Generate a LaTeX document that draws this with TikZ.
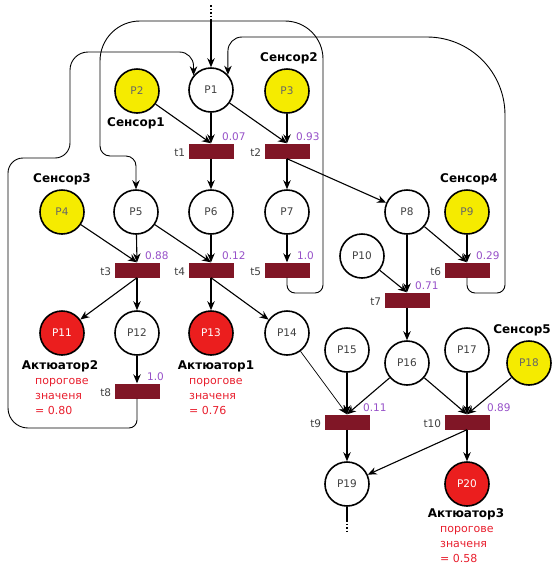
\documentclass[tikz,border=0pt]{standalone}
\usepackage{fontspec}
\setmainfont{DejaVu Sans}
\usetikzlibrary{arrows.meta}

\definecolor{tred}{RGB}{128,22,38}
\definecolor{pyellow}{RGB}{245,235,0}
\definecolor{pred}{RGB}{235,30,30}
\definecolor{wpurple}{RGB}{150,80,200}
\definecolor{thrred}{RGB}{232,30,45}

\begin{document}
\begin{tikzpicture}[x=1pt,y=-1pt,
  place/.style={circle,draw=black,line width=1.6pt,minimum size=44pt,inner sep=0pt,
    fill=white,text=black!75,font=\fontsize{10.5}{12}\selectfont},
  sensor/.style={place,fill=pyellow,text=black!60},
  actuator/.style={place,fill=pred,text=white},
  trans/.style={rectangle,fill=tred,minimum width=45pt,minimum height=15pt,inner sep=0pt},
  tname/.style={anchor=east,inner sep=0pt,font=\fontsize{10.5}{12}\selectfont,text=black!75},
  weight/.style={anchor=base west,inner sep=0pt,font=\fontsize{10.5}{12}\selectfont,text=wpurple},
  slabel/.style={anchor=base,inner sep=0pt,font=\bfseries\fontsize{12}{14}\selectfont},
  thr/.style={anchor=base west,inner sep=0pt,font=\fontsize{11}{13}\selectfont,text=thrred},
  arc/.style={-{Stealth[length=9pt,width=7.5pt]},line width=1.1pt},
  thinarc/.style={-{Stealth[length=9pt,width=7.5pt]},line width=0.7pt},
  fb/.style={line width=0.9pt},
  fbarc/.style={fb,-{Stealth[length=9pt,width=7.5pt]}}
]
\useasboundingbox (0,0) rectangle (552,566);

% ---------- places ----------
\node[place]    (P1)  at (211,90)  {P1};
\node[sensor]   (P2)  at (137,91)  {P2};
\node[sensor]   (P3)  at (287,91)  {P3};
\node[sensor]   (P4)  at (62,212)  {P4};
\node[place]    (P5)  at (136,212) {P5};
\node[place]    (P6)  at (211,212) {P6};
\node[place]    (P7)  at (287,212) {P7};
\node[place]    (P8)  at (407,212) {P8};
\node[sensor]   (P9)  at (467,212) {P9};
\node[place]    (P10) at (362,256) {P10};
\node[actuator] (P11) at (62,333)  {P11};
\node[place]    (P12) at (137,333) {P12};
\node[actuator] (P13) at (211,333) {P13};
\node[place]    (P14) at (287,333) {P14};
\node[place]    (P15) at (347,350) {P15};
\node[place]    (P16) at (407,363) {P16};
\node[place]    (P17) at (467,350) {P17};
\node[sensor]   (P18) at (529,363) {P18};
\node[place]    (P19) at (347,484) {P19};
\node[actuator] (P20) at (467,484) {P20};

% ---------- transitions ----------
\node[trans] (t1)  at (211,151) {};
\node[trans] (t2)  at (287,151) {};
\node[trans] (t3)  at (137,270) {};
\node[trans] (t4)  at (211,270) {};
\node[trans] (t5)  at (287,270) {};
\node[trans] (t6)  at (467,270) {};
\node[trans] (t7)  at (407,300) {};
\node[trans] (t8)  at (137,391) {};
\node[trans] (t9)  at (347,422) {};
\node[trans] (t10) at (467,422) {};

% transition names
\foreach \t in {t1,t2,t3,t4,t5,t6,t7,t8,t9,t10}
  \node[tname] (n\t) at ([xshift=-3pt,yshift=-2pt]\t.west) {\t};

% firing weights
\node[weight] (w1)  at ([xshift=11pt,yshift=3pt]t1.north)  {0.07};
\node[weight] (w2)  at ([xshift=9pt,yshift=3pt]t2.north)   {0.93};
\node[weight] (w3)  at ([xshift=8pt,yshift=3pt]t3.north)   {0.88};
\node[weight] (w4)  at ([xshift=11pt,yshift=3pt]t4.north)  {0.12};
\node[weight] (w5)  at ([xshift=10pt,yshift=3pt]t5.north)  {1.0};
\node[weight] (w6)  at ([xshift=9pt,yshift=3pt]t6.north)   {0.29};
\node[weight] (w7)  at ([xshift=8pt,yshift=3pt]t7.north)   {0.71};
\node[weight] (w8)  at ([xshift=10pt,yshift=3pt]t8.north)  {1.0};
\node[weight] (w9)  at ([xshift=16pt,yshift=3pt]t9.north)  {0.11};
\node[weight] (w10) at ([xshift=20pt,yshift=3pt]t10.north) {0.89};

% ---------- sensor and actuator captions ----------
\node[slabel] (s1) at (136,126) {Сенсор1};
\node[slabel] (s2) at (289,61)  {Сенсор2};
\node[slabel] (s3) at (62,182)  {Сенсор3};
\node[slabel] (s4) at (469,182) {Сенсор4};
\node[slabel,anchor=base east] (s5) at (551,333) {Сенсор5};

\node[slabel] (a2) at (60,369) {Актюатор2};
\node[thr] (a2l1) at (35,384) {порогове};
\node[thr] (a2l2) at (35,399) {значеня};
\node[thr] (a2l3) at (35,414) {= 0.80};

\node[slabel] (a1) at (216,369) {Актюатор1};
\node[thr] (a1l1) at (189,384) {порогове};
\node[thr] (a1l2) at (189,399) {значеня};
\node[thr] (a1l3) at (189,414) {= 0.76};

\node[slabel] (a3) at (466,517) {Актюатор3};
\node[thr] (a3l1) at (440,532) {порогове};
\node[thr] (a3l2) at (440,547) {значеня};
\node[thr] (a3l3) at (440,562) {= 0.58};

% ---------- net entry and exit ----------
\coordinate (inTop) at (211,5);
\coordinate (inMid) at (211,20);
\coordinate (outMid) at (347,520);
\coordinate (outBot) at (347,534);
\draw[line width=1.1pt,dash pattern=on 1.5pt off 2pt] (inTop) -- (inMid);
\draw[arc] (inMid) -- (P1);
\draw[line width=1.1pt] (P19) -- (outMid);
\draw[line width=1.1pt,dash pattern=on 1.5pt off 2pt] (outMid) -- (outBot);

% ---------- arcs ----------
\draw[arc] (P2) -- (t1.north);
\draw[arc] (P1) -- (t1.north);
\draw[arc] (P1) -- (t2.north);
\draw[arc] (P3) -- (t2.north);
\draw[arc] (t1.south) -- (P6);
\draw[arc] (t2.south) -- (P7);
\draw[arc] (t2.south) -- (P8);

\draw[arc] (P4) -- (t3.north);
\draw[arc] (P5) -- (t3.north);
\draw[arc] (P5) -- (t4.north);
\draw[arc] (P6) -- (t4.north);
\draw[arc] (P7) -- (t5.north);
\draw[arc] (P8) -- (t6.north);
\draw[arc] (P9) -- (t6.north);
\draw[arc] (P8) -- (t7.north);
\draw[arc] (P10) -- (t7.north);

\draw[arc] (t3.south) -- (P11);
\draw[arc] (t3.south) -- (P12);
\draw[arc] (t4.south) -- (P13);
\draw[arc] (t4.south) -- (P14);
\draw[arc] (P12) -- (t8.north);
\draw[arc] (t7.south) -- (P16);

\draw[thinarc] (P14) -- (t9.north);
\draw[arc] (P15) -- (t9.north);
\draw[arc] (P16) -- (t9.north);
\draw[arc] (P16) -- (t10.north);
\draw[arc] (P17) -- (t10.north);
\draw[arc] (P18) -- (t10.north);

\draw[arc] (t9.south) -- (P19);
\draw[arc] (t10.south) -- (P19);
\draw[arc] (t10.south) -- (P20);

% ---------- feedback loops ----------
% t8 back to P1 around the left side
\draw[fbarc] (t8.south) [rounded corners=8pt] -- (137,428)
  [rounded corners=20pt] -- (8,428) [rounded corners=15pt] -- (8,158)
  -- (70,158) [rounded corners=18pt] -- (70,52) [rounded corners=14pt] -| (P1.140);
% t5 back to P5 over the top
\draw[fbarc] (t5.south) [rounded corners=8pt] -- (287,293) -- (323,293)
  [rounded corners=38pt] -- (323,21) [rounded corners=40pt] -- (100,21)
  [rounded corners=10pt] -- (100,156) -| (P5.north);
% t6 back to P1 from the right
\draw[fbarc] (t6.south) [rounded corners=8pt] -- (467,293) -- (505,293)
  [rounded corners=78pt] -- (505,37) [rounded corners=14pt] -| (P1.42);

\end{tikzpicture}
\end{document}
